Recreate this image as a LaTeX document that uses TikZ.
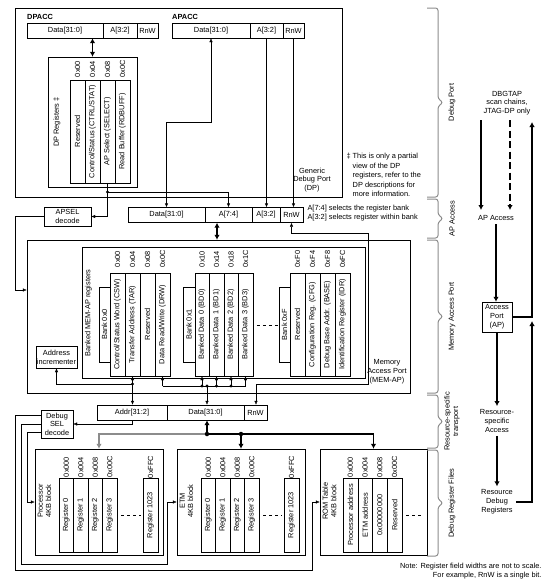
\documentclass[tikz,border=0pt]{standalone}
\usepackage{fontspec}
\setmainfont{Liberation Sans}
\usetikzlibrary{arrows.meta}

\begin{document}
\begin{tikzpicture}[x=1pt,y=-1pt,font=\fontsize{7.4}{8.8}\selectfont,
  >={Latex[length=4pt,width=3.4pt]},
  field/.style={draw,minimum height=15pt,inner sep=0pt},
  regcol/.style={draw,minimum width=#1,inner sep=0pt},
  regcol/.default=15pt,
  vtext/.style={rotate=90,align=center,inner sep=0pt},
  box/.style={draw,align=center,inner sep=0pt},
  fat/.style={line width=1.5pt},
  bigtip/.style={-{Latex[length=5pt,width=5.5pt]}},
  bigboth/.style={{Latex[length=5pt,width=5.5pt]}-{Latex[length=5pt,width=5.5pt]}},
  gbrace/.style={black!45,line width=1pt,rounded corners=2.5pt},
  title/.style={font=\fontsize{7.4}{8}\selectfont\bfseries,anchor=west,inner sep=0pt},
  jdot/.style={circle,fill,inner sep=0pt,minimum size=3.2pt}]
  \useasboundingbox (0,0) rectangle (555,587);

  % Generic Debug Port
  \node[draw,minimum width=327pt,minimum height=189pt] (dp) at (178.5,102.5) {};
  \node[title] (dpacc) at (27,16.5) {DPACC};
  \node[title] (apacc) at (172,16.5) {APACC};
  \node[align=center] (dpl) at (312,180) {Generic\\Debug Port\\(DP)};
  \node[align=left,anchor=north west,font=\fontsize{7.4}{9.5}\selectfont] (dpnote) at (343,150)
    {‡ This is only a partial\\\phantom{‡ }view of the DP\\\phantom{‡ }registers, refer to the\\\phantom{‡ }DP descriptions for\\\phantom{‡ }more information.};

  % DPACC and APACC
  \node[field,minimum width=76pt] (dpdata) at (65,30.5) {Data[31:0]};
  \node[field,minimum width=34pt] (dpaddr) at (120,30.5) {A[3:2]};
  \node[field,minimum width=21pt] (dprnw) at (147.5,30.5) {RnW};
  \node[field,minimum width=78pt] (apdata) at (211,30.5) {Data[31:0]};
  \node[field,minimum width=33pt] (apaddr) at (266.5,30.5) {A[3:2]};
  \node[field,minimum width=21pt] (aprnw) at (293.5,30.5) {RnW};

  % DP registers
  \node[draw,minimum width=89pt,minimum height=130pt] (dpregs) at (92.5,122) {};
  \node[vtext] (dpregl) at (57,122) {DP Registers ‡};
  \foreach \n/\x/\o/\t in {dpr0/77.5/0x00/Reserved,
      dpr1/92.5/0x04/{Control/Status (CTRL/STAT)},
      dpr2/107.5/0x08/{AP Select (SELECT)},
      dpr3/122.5/0x0C/{Read Buffer (RDBUFF)}}
  {
    \node[regcol,minimum height=103pt,label={[vtext]center:\t}] (\n) at (\x,131.5) {};
    \node[vtext] (\n-ofs) at (\x,69) {\o};
  }
  \draw[fat,bigboth] (dpdata.south -| dpregs.north) -- (dpregs.north);

  % AP access
  \node[field,minimum width=77pt] (aprdata) at (166.5,215) {Data[31:0]};
  \node[field,minimum width=47pt] (aprsel) at (228.5,215) {A[7:4]};
  \node[field,minimum width=28pt] (aprbank) at (266,215) {A[3:2]};
  \node[field,minimum width=23pt] (aprrnw) at (291.5,215) {RnW};
  \node[align=left,anchor=west,font=\fontsize{7.4}{9}\selectfont] (selnote) at (304,213.5)
    {A[7:4] selects the register bank\\A[3:2] selects register within bank};
  \node[box,minimum width=47pt,minimum height=19pt] (apsel) at (67.5,216.5) {APSEL\\decode};

  \coordinate (selj) at (107.5,192);
  \draw (dpr2.south) -- (selj);
  \draw[->] (selj) -| (aprsel.north);
  \draw[->] (selj) |- (apsel.east);
  \node[jdot] (seldot) at (selj) {};
  \draw[<->] (apdata.south) -- (211,122) -| (aprdata.north);
  \draw[->] (apaddr.south) -- (apaddr.south |- aprbank.north);
  \draw[->] (aprnw.south) -- (aprnw.south |- aprrnw.north);

  % Memory Access Port
  \node[draw,minimum width=383pt,minimum height=153pt] (memap) at (218.5,316.5) {};
  \node[align=center] (memapl) at (387,372) {Memory\\Access Port\\(MEM-AP)};
  \node[draw,minimum width=283pt,minimum height=131pt] (banked) at (223.5,312.5) {};
  \node[vtext] (bankedl) at (88.5,313) {Banked MEM-AP registers};
  \draw[fat,bigboth] ([xshift=-11.5pt]aprsel.south) -- ([xshift=-11.5pt]aprsel.south |- memap.north);
  \draw[->] (apsel.west) -- (15,216.5) |- (memap.west |- 0,290);

  \node[draw,minimum width=11pt,minimum height=75pt,label={[vtext]center:Bank 0x0}] (bank0) at (104.5,324.5) {};
  \node[draw,minimum width=12pt,minimum height=75pt,label={[vtext]center:Bank 0x1}] (bank1) at (189,324.5) {};
  \node[draw,minimum width=11pt,minimum height=75pt,label={[vtext]center:Bank 0xF}] (bankf) at (284.5,324.5) {};
  \foreach \n/\x/\o/\t in {csw/117.5/0x00/{Control/Status Word (CSW)},
      tar/132.5/0x04/{Transfer Address (TAR)},
      rsv/147.5/0x08/Reserved,
      drw/162.5/0x0C/{Data Read/Write (DRW)},
      rsvf/297.5/0xF0/Reserved,
      cfg/312.5/0xF4/{Configuration Reg. (CFG)},
      base/327.5/0xF8/{Debug Base Addr. (BASE)},
      idr/342.5/0xFC/{Identification Register (IDR)}}
  {
    \node[regcol,minimum height=103pt,label={[vtext]center:\t}] (\n) at (\x,324.5) {};
    \node[vtext] (\n-ofs) at (\x,259) {\o};
  }
  \foreach \n/\x/\o in {0/202/0x10, 1/216.5/0x14, 2/231/0x18, 3/245.5/0x1C}
  {
    \node[regcol=14.5pt,minimum height=103pt,label={[vtext]center:Banked Data \n\ (BD\n)}] (bd\n) at (\x,324.5) {};
    \node[vtext] (bd\n-ofs) at (\x,259) {\o};
  }
  \draw[dashed] (bd3.east |- 0,325) ++(4,0) -- (bankf.west |- 0,325);

  \node[box,minimum width=41pt,minimum height=22pt] (incr) at (56.5,357) {Address\\incrementer};

  % MEM-AP buses
  \coordinate (tarj) at (132.5,384);
  \coordinate (dataj) at (207,386);
  \coordinate (rnwj) at (256,384);
  \draw[->] (tarj) -- (tar.south);
  \draw[->] (tarj) -- (incr.south |- tarj) -- (incr.south);
  \draw (drw.south |- dataj) -- (bd3.south |- dataj);
  \foreach \c in {drw,bd0,bd1,bd2,bd3}
    \draw[->] (\c.south |- dataj) -- (\c.south);
  \foreach \c in {bd0,bd1,bd2}
    \node[jdot] (\c-dot) at (\c.south |- dataj) {};
  \node[jdot] (datadot) at (dataj) {};
  \node[jdot] (tardot) at (tarj) {};
  \draw[<-] (aprrnw.south) -- (291.5,233) -- (368,233) |- (rnwj);

  % Resource-specific transport
  \node[field,minimum width=70pt] (traddr) at (132,412.5) {Addr[31:2]};
  \node[field,minimum width=77pt] (trdata) at (205.5,412.5) {Data[31:0]};
  \node[field,minimum width=23pt] (trrnw) at (255.5,412.5) {RnW};
  \draw[->] (tarj) -- (tarj |- traddr.north);
  \draw[->] (dataj) -- (dataj |- trdata.north);
  \draw[->] (rnwj) -- (rnwj |- trrnw.north);

  \node[box,minimum width=32pt,minimum height=28pt,font=\fontsize{7.4}{8.6}\selectfont] (dsel) at (57,424) {Debug\\SEL\\decode};
  \draw[->] (traddr.south) |- (dsel.east);

  % Debug register files
  \node[draw,minimum width=128pt,minimum height=106pt] (procblk) at (99,502) {};
  \node[draw,minimum width=128pt,minimum height=106pt] (etmblk) at (241,502) {};
  \node[draw,minimum width=107pt,minimum height=106pt] (romblk) at (373.5,502) {};
  \node[vtext,font=\fontsize{7.4}{8.4}\selectfont] (procl) at (44.5,501) {Processor\\4KB block};
  \node[vtext,font=\fontsize{7.4}{8.4}\selectfont] (etml) at (186.5,501) {ETM\\4KB block};
  \node[vtext,font=\fontsize{7.4}{8.4}\selectfont] (roml) at (329.5,501) {ROM Table\\4KB block};
  \foreach \b/\xa/\xb in {pr/66.25/150.5, em/208.25/291.5}
  {
    \foreach \i/\o in {0/0x000,1/0x004,2/0x008,3/0x00C}
    {
      \node[regcol=14.5pt,minimum height=74pt,label={[vtext]center:Register \i}] (\b\i) at ({\xa+14.5*\i},515) {};
      \node[vtext] (\b\i-ofs) at ({\xa+14.5*\i},467) {\o};
    }
    \node[regcol,minimum height=74pt,label={[vtext]center:Register 1023}] (\b1023) at (\xb,515) {};
    \node[vtext] (\b1023-ofs) at (\xb,467) {0xFFC};
    \draw[dashed] ([xshift=4pt]\b3.east) -- ([xshift=-2pt]\b1023.west);
  }
  \foreach \i/\o/\t in {0/0x000/Processor address, 1/0x004/ETM address, 2/0x008/0x00000000, 3/0x00C/Reserved}
  {
    \node[regcol=14.75pt,minimum height=74pt,label={[vtext]center:\t}] (ro\i) at ({350.4+14.75*\i},515) {};
    \node[vtext] (ro\i-ofs) at ({350.4+14.75*\i},467) {\o};
  }
  \draw[dashed] ([xshift=4pt]ro3.east) -- ([xshift=-3pt]romblk.east |- ro3.east);

  % select lines
  \draw[->] ([yshift=9pt]dsel.west) -- (15,415) -- (15,570) -- (312,570) |- (romblk.west);
  \draw[->] (dsel.west) -- (21,424) -- (21,564) -- (167,564) |- (etmblk.west);
  \draw[->] ([yshift=-8pt]dsel.west) -- (27,432) |- (procblk.west);

  % data bus to the register files
  \coordinate (dj1) at (207,434);
  \coordinate (dj2) at (241,434);
  \draw[fat,bigtip] (dj1) -- (dj1 |- trdata.south);
  \draw[fat,bigtip,black!45] (dj1) -| (procblk.north);
  \draw[fat,bigtip] (dj1) -| (romblk.north);
  \draw[fat,bigtip] (dj2) -- (etmblk.north);
  \node[jdot,minimum size=4.5pt] (dj1dot) at (dj1) {};
  \node[jdot,minimum size=4.5pt] (dj2dot) at (dj2) {};

  \node[align=right,anchor=east,font=\fontsize{7.4}{9.5}\selectfont] (note) at (545,571)
    {Note: Register field widths are not to scale.\\For example, RnW is a single bit.};

  % Braces
  \foreach \ya/\yb/\t in {8/197/Debug Port, 199/238/AP Access, 240/393/Memory Access Port,
      395/448/{Resource-specific\\transport}, 450/556/Debug Register Files}
  {
    \draw[gbrace] (427,\ya) -- (438,\ya) -- (438,{(\ya+\yb)/2-4}) -- (443,{(\ya+\yb)/2})
      -- (438,{(\ya+\yb)/2+4}) -- (438,\yb) -- (427,\yb);
    \node[vtext,font=\fontsize{7.4}{8.4}\selectfont] at (452,{(\ya+\yb)/2}) {\t};
  }

  % Access flow
  \node[align=center] (dbgtap) at (507,103) {DBGTAP\\scan chains,\\JTAG-DP only};
  \node (apacc2) at (496,218) {AP Access};
  \node[draw,align=center,inner sep=0pt,minimum width=30pt,minimum height=30pt] (apbox) at (497,317) {Access\\Port\\(AP)};
  \node[align=center] (rsa) at (497,421) {Resource-\\specific\\Access};
  \node[align=center] (rdr) at (497,502) {Resource\\Debug\\Registers};
  \draw[fat,bigtip] (481,120) -- (481,210);
  \draw[fat,bigtip,dash pattern=on 7pt off 3.5pt] (510,120) -- (510,210);
  \draw[fat,bigtip] (apacc2.south) -- (apacc2.south |- apbox.north);
  \draw[fat,bigtip] (apbox.south) -- (rsa.north);
  \draw[fat,bigtip] (rsa.south) -- (rdr.north);
  \draw[fat,bigtip] (apbox.east) -| (532,122);
  \draw[fat,bigtip] (rdr.east) -| (532,321);
\end{tikzpicture}
\end{document}
